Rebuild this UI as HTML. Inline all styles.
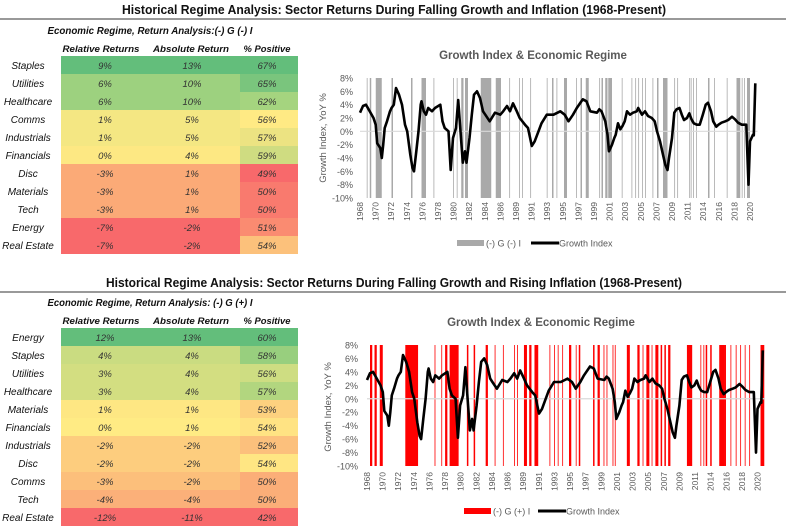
<!DOCTYPE html>
<html><head><meta charset="utf-8"><style>
html,body{margin:0;padding:0;background:#fff;}
svg{display:block;font-family:"Liberation Sans",sans-serif;}
</style></head><body>
<svg id="page" width="786" height="529" viewBox="0 0 786 529" xmlns="http://www.w3.org/2000/svg">
<text x="394" y="14" text-anchor="middle" font-size="12.5" font-weight="bold" fill="#111" textLength="544" lengthAdjust="spacingAndGlyphs">Historical Regime Analysis: Sector Returns During Falling Growth and Inflation (1968-Present)</text>
<line x1="0" y1="19" x2="786" y2="19" stroke="#333" stroke-width="1"/>
<text x="394" y="287" text-anchor="middle" font-size="12.5" font-weight="bold" fill="#111" textLength="576" lengthAdjust="spacingAndGlyphs">Historical Regime Analysis: Sector Returns During Falling Growth and Rising Inflation (1968-Present)</text>
<line x1="0" y1="292" x2="786" y2="292" stroke="#333" stroke-width="1"/>
<g id="tables"></g>
<g id="charts"></g>
</svg>
<script>
// ---------- table data ----------
const t1Sectors = ["Staples","Utilities","Healthcare","Comms","Industrials","Financials","Disc","Materials","Tech","Energy","Real Estate"];
const t1Rel = ["9%","6%","6%","1%","1%","0%","-3%","-3%","-3%","-7%","-7%"];
const t1Abs = ["13%","10%","10%","5%","5%","4%","1%","1%","1%","-2%","-2%"];
const t1Pos = ["67%","65%","62%","56%","57%","59%","49%","50%","50%","51%","54%"];
const t1RowColor = ["#63be7b","#9dd17f","#9dd17f","#f4e783","#f4e783","#fde883","#fbaa77","#fbaa77","#fbaa77","#f8696b","#f8696b"];
const t1PosColor = ["#63be7b","#7ac57d","#a5d47f","#ffea84","#ece382","#cfdc81","#f8696b","#f97a6e","#f97a6e","#fa8b71","#fcc17b"];

const t2Sectors = ["Energy","Staples","Utilities","Healthcare","Materials","Financials","Industrials","Disc","Comms","Tech","Real Estate"];
const t2Rel = ["12%","4%","3%","3%","1%","0%","-2%","-2%","-3%","-4%","-12%"];
const t2Abs = ["13%","4%","4%","4%","1%","1%","-2%","-2%","-2%","-4%","-11%"];
const t2Pos = ["60%","58%","56%","57%","53%","54%","52%","54%","50%","50%","42%"];
const t2RowColor = ["#63be7b","#cadc81","#d3de81","#d3de81","#fee783","#ffeb84","#fdcd7e","#fdcd7e","#fcbf7b","#fbb079","#f8696b"];
const t2PosColor = ["#63be7b","#98cf7e","#cedd82","#b2d67f","#fdd17f","#ffe383","#fcc07c","#ffe683","#fbae78","#fbae78","#f8696b"];

// ---------- chart data ----------
const growthYears = [1968.0,1968.4,1968.8,1969.3,1969.8,1970.1,1970.3,1970.7,1970.9,1971.1,1971.3,1971.6,1972.0,1972.2,1972.5,1972.8,1973.2,1973.6,1974.0,1974.3,1974.7,1975.0,1975.2,1975.5,1975.8,1976.1,1976.2,1976.5,1976.8,1977.1,1977.6,1978.0,1978.7,1979.0,1979.3,1979.8,1980.1,1980.4,1980.8,1981.1,1981.4,1981.7,1982.0,1982.2,1982.6,1982.9,1983.2,1983.6,1984.0,1984.4,1984.7,1985.3,1986.0,1986.7,1987.1,1987.6,1988.0,1988.4,1988.9,1989.3,1990.0,1990.4,1990.9,1991.3,1991.8,1992.2,1992.9,1993.8,1994.7,1995.3,1995.8,1996.4,1996.9,1997.7,1998.2,1998.7,1999.6,1999.9,2000.2,2000.7,2001.0,2001.2,2001.6,2001.9,2002.1,2002.4,2002.7,2003.0,2003.3,2003.6,2004.0,2004.4,2004.9,2005.1,2005.6,2006.0,2006.4,2006.9,2007.3,2007.6,2008.0,2008.4,2008.7,2009.0,2009.2,2009.6,2009.9,2010.2,2010.6,2010.9,2011.2,2011.6,2011.9,2012.2,2012.5,2012.9,2013.3,2013.7,2014.1,2014.4,2014.8,2015.1,2015.5,2015.8,2016.2,2016.7,2017.1,2017.6,2018.0,2018.4,2018.9,2019.3,2019.5,2019.8,2020.0,2020.4,2020.5,2020.7];
const growthValues = [2.8,3.8,4.0,3.0,2.0,1.0,-1.8,-2.5,-4.0,-2.0,0.5,1.5,3.0,3.5,4.0,6.5,5.5,4.0,1.0,0,-3.5,-5.5,-6.0,-3.0,0,4.0,4.5,3.0,2.5,3.5,3.0,3.5,4.0,1.5,0.5,0,-5.8,-1.0,0.5,4.7,0,-4.7,-3.0,-4.7,-1.0,2.5,5.5,6.0,5.0,3.0,2.5,1.5,2.8,2.5,3.0,3.8,3.0,4.2,3.0,2.0,1.0,0.5,-2.2,-1.5,0,1.2,2.5,2.5,3.0,2.5,1.5,2.5,3.5,4.8,4.5,3.0,2.8,3.3,3.0,1.5,-0.5,-3.0,-2.0,-1.0,-0.5,1.2,0.3,0.8,1.5,3.0,2.5,2.8,3.0,3.5,2.5,3.0,2.3,2.0,1.5,0,-1.5,-3.5,-5.0,-5.8,-4.0,-1.0,2.8,3.3,3.5,2.5,1.7,2.0,2.7,1.8,1.2,1.0,1.0,2.5,4.0,4.3,3.0,1.5,0.7,1.0,1.3,1.5,1.7,2.2,1.8,1.3,1.0,1.0,1.0,-8.0,-1.5,-0.5,-0.6,7.2];
const regimeGrayStart = [1968.9,1969.3,1970.1,1972.2,1974.8,1976.2,1977.8,1980.4,1980.9,1981.5,1982.0,1984.1,1986.1,1987.9,1989.2,1989.6,1990.7,1992.9,1993.6,1994.2,1995.2,1996.8,1997.4,1998.1,1999.9,2000.2,2000.7,2001.1,2002.9,2004.2,2004.7,2005.1,2005.6,2006.0,2007.0,2007.6,2008.4,2009.9,2010.3,2011.9,2012.1,2012.4,2012.8,2014.4,2015.2,2016.9,2018.2,2018.9,2019.2,2019.6];
const regimeGrayEnd   = [1969.0,1969.5,1970.9,1972.4,1975.0,1976.8,1977.9,1980.5,1981.0,1981.8,1982.4,1985.5,1986.8,1988.0,1989.3,1989.7,1990.8,1993.0,1993.8,1994.3,1995.6,1996.9,1997.6,1998.5,2000.0,2000.4,2001.0,2001.6,2003.0,2004.3,2004.8,2005.2,2005.7,2006.1,2007.1,2007.8,2009.0,2010.0,2010.4,2012.0,2012.2,2012.5,2012.9,2014.6,2015.3,2017.0,2018.7,2019.0,2019.3,2020.0];
const regimeRedStart = [1968.4,1969.0,1969.7,1973.1,1977.0,1977.9,1978.4,1979.0,1981.3,1982.2,1983.8,1985.0,1986.1,1987.6,1988.0,1988.9,1989.6,1990.3,1992.3,1992.9,1993.4,1994.0,1994.9,1995.8,1996.2,1998.1,1998.7,1999.5,1999.9,2000.7,2001.0,2002.6,2004.0,2004.7,2005.2,2005.9,2006.4,2007.1,2007.6,2008.1,2010.6,2012.4,2012.8,2013.1,2013.7,2014.9,2015.6,2016.4,2017.1,2017.7,2018.3,2018.9,2020.4];
const regimeRedEnd   = [1968.7,1969.3,1970.1,1974.8,1977.1,1978.0,1978.7,1980.2,1981.5,1982.4,1984.1,1985.1,1986.2,1987.7,1988.1,1989.3,1989.9,1990.8,1992.4,1993.0,1993.5,1994.1,1995.2,1995.9,1996.4,1998.3,1999.0,1999.6,2000.0,2000.8,2001.1,2003.0,2004.3,2004.8,2005.6,2006.0,2006.8,2007.3,2007.8,2008.4,2011.3,2012.5,2012.9,2013.3,2013.9,2015.6,2015.8,2016.5,2017.2,2017.8,2018.4,2019.0,2020.9];
const tickLabels = ["1968","1970","1972","1974","1976","1978","1980","1982","1984","1986","1989","1991","1993","1995","1997","1999","2001","2003","2005","2007","2009","2011","2014","2016","2018","2020"];
const yTicks = [8,6,4,2,0,-2,-4,-6,-8,-10];

const NS = "http://www.w3.org/2000/svg";
function mk(tag, attrs, parent, text){
  const e = document.createElementNS(NS, tag);
  for (const k in attrs) e.setAttribute(k, attrs[k]);
  if (text !== undefined) e.textContent = text;
  parent.appendChild(e);
  return e;
}

// ---------- tables ----------
function drawTable(cfg){
  const g = mk("g", {}, document.getElementById("tables"));
  
  
  const st = mk("text", {x:150, y:cfg.subY, "text-anchor":"middle", "font-size":"10", "font-weight":"bold", "font-style":"italic", fill:"#111", textLength:"205", lengthAdjust:"spacingAndGlyphs"}, g, cfg.subtitle);
  
  
  const heads = [["Relative Returns",101,77],["Absolute Return",191,76],["% Positive",267,47]];
  heads.forEach(h=>{
    const t = mk("text", {x:h[1], y:cfg.headY, "text-anchor":"middle", "font-size":"9.5", "font-weight":"bold", "font-style":"italic", fill:"#111", textLength:h[2], lengthAdjust:"spacingAndGlyphs"}, g, h[0]);
    
    
  });
  cfg.sectors.forEach((s,i)=>{
    const y = cfg.top + i*18;
    const r1 = mk("rect", {x:61, y:y, width:179, height:18, fill:cfg.rowColor[i]}, g);
    
    
    const r2 = mk("rect", {x:240, y:y, width:58, height:18, fill:cfg.posColor[i]}, g);
    
    
    const lab = mk("text", {x:28, y:y+13, "text-anchor":"middle", "font-size":"10", "font-style":"italic", fill:"#111"}, g, s);
    
    
    [[cfg.rel[i],105],[cfg.abs[i],192],[cfg.pos[i],267]].forEach(v=>{
      const t = mk("text", {x:v[1], y:y+13, "text-anchor":"middle", "font-size":"9.5", "font-style":"italic", fill:"#333"}, g, v[0]);
      
      
    });
  });
}
drawTable({name:"falling-growth-falling-inflation-table", subtitle:"Economic Regime, Return Analysis:(-) G (-) I", subY:34, headY:52, top:56, sectors:t1Sectors, rel:t1Rel, abs:t1Abs, pos:t1Pos, rowColor:t1RowColor, posColor:t1PosColor});
drawTable({name:"falling-growth-rising-inflation-table", subtitle:"Economic Regime, Return Analysis: (-) G (+) I", subY:306, headY:324, top:328, sectors:t2Sectors, rel:t2Rel, abs:t2Abs, pos:t2Pos, rowColor:t2RowColor, posColor:t2PosColor});

// ---------- charts ----------
function drawChart(c){
  const g = mk("g", {}, document.getElementById("charts"));
  
  
  const x = yr => c.x0 + (yr - 1968) * c.pxPerYear;
  const y = v => c.yTop + (8 - v) * (c.yBot - c.yTop) / 18;

  const title = mk("text", {x:c.titleX, y:c.titleY, "text-anchor":"middle", "font-size":"11.5", "font-weight":"bold", fill:"#595959"}, g, "Growth Index & Economic Regime");
  
  

  c.rs.forEach((s,i)=>{
    const r = mk("rect", {x:x(s), y:c.yTop, width:Math.max(0.8, x(c.re[i]) - x(s)), height:c.yBot - c.yTop, fill:c.barColor}, g);
    
    
  });
  const z = mk("line", {x1:c.x0, x2:x(2021), y1:y(0), y2:y(0), stroke:"#d9d9d9", "stroke-width":"1.2"}, g);
  
  
  yTicks.forEach(v=>{
    const t = mk("text", {x:c.yLabX, y:y(v)+3.5, "text-anchor":"end", "font-size":"9", fill:"#595959"}, g, v + "%");
    
    
  });
  const at = mk("text", {x:0, y:0, "text-anchor":"middle", "font-size":"9.5", fill:"#595959", transform:`translate(${c.axTitleX},${c.axTitleY}) rotate(-90)`}, g, "Growth Index, YoY %");
  
  
  tickLabels.forEach((l,i)=>{
    const px = x(1968 + i * 52 / (tickLabels.length - 1));
    const t = mk("text", {x:0, y:0, "text-anchor":"end", "font-size":"8.5", fill:"#595959", transform:`translate(${px+3},${c.xLabY}) rotate(-90)`}, g, l);
    
    
  });
  const d = growthYears.map((yr,i)=>(i?"L":"M") + x(yr).toFixed(1) + "," + y(growthValues[i]).toFixed(1)).join(" ");
  const p = mk("path", {d:d, fill:"none", stroke:"#000", "stroke-width":"2.6", "stroke-linejoin":"round"}, g);
  
  
  const lr = mk("rect", {x:c.legX, y:c.legY-3, width:27, height:6, fill:c.barColor}, g);
  
  
  const lt = mk("text", {x:c.legX+29, y:c.legY+3.5, "font-size":"9", fill:"#595959"}, g, c.regimeLabel);
  
  
  const ll = mk("line", {x1:c.legX+74, x2:c.legX+102, y1:c.legY, y2:c.legY, stroke:"#000", "stroke-width":"3"}, g);
  
  
  const lt2 = mk("text", {x:c.legX+102, y:c.legY+3.5, "font-size":"9", fill:"#595959"}, g, "Growth Index");
  
  
}
drawChart({name:"top-growth-regime-chart", x0:360, pxPerYear:7.5, yTop:78, yBot:198, titleX:533, titleY:59, yLabX:353, axTitleX:326, axTitleY:138, xLabY:202, legX:457, legY:243, barColor:"#a9a9a9", regimeLabel:"(-) G (-) I", rs:regimeGrayStart, re:regimeGrayEnd});
drawChart({name:"bottom-growth-regime-chart", x0:367, pxPerYear:7.51, yTop:345, yBot:466, titleX:541, titleY:326, yLabX:358, axTitleX:331, axTitleY:407, xLabY:472, legX:464, legY:511, barColor:"#ff0000", regimeLabel:"(-) G (+) I", rs:regimeRedStart, re:regimeRedEnd});
</script>
</body></html>
